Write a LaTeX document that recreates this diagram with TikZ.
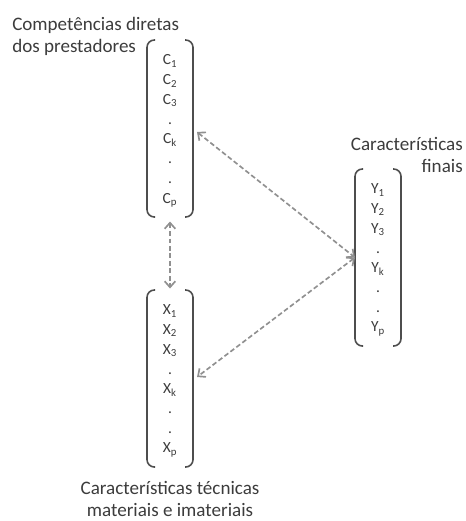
\documentclass[tikz,border=0pt]{standalone}
\usepackage{fontspec}
\setmainfont{Carlito}
\usetikzlibrary{arrows.meta}
\definecolor{ink}{HTML}{3C3C3C}
\definecolor{bracketgray}{HTML}{4E4E4E}
\definecolor{linkgray}{HTML}{909090}
\tikzset{
  vecbody/.style={minimum width=34.5pt, minimum height=132.75pt, inner sep=0pt, outer sep=0pt},
  entries/.style={align=center, inner sep=0pt, text=ink, font=\fontsize{11.6}{14.8}\selectfont},
  heading/.style={inner sep=0pt, text=ink, font=\fontsize{14.3}{16.5}\selectfont},
  bracket/.style={draw=bracketgray, line width=1.2pt, rounded corners=5.5pt},
  link/.style={draw=linkgray, line width=1.25pt, dash pattern=on 3.6pt off 2pt,
    {Straight Barb[length=4.5pt,width=8pt]}-{Straight Barb[length=4.5pt,width=8pt]}}
}
% left and right round brackets around a column vector
\newcommand\drawvecbrackets[1]{%
  \draw[bracket] ([shift={(8,0)}]#1.north west) -- (#1.north west) -- (#1.south west) -- ([shift={(8,0)}]#1.south west);
  \draw[bracket] ([shift={(-8,0)}]#1.north east) -- (#1.north east) -- (#1.south east) -- ([shift={(-8,0)}]#1.south east);
}
\begin{document}
\begin{tikzpicture}[x=0.75pt, y=-0.75pt]
  \useasboundingbox (0,0) rectangle (465,521);

  % column vectors
  \node[vecbody] (C) at (170,128.5) {};
  \node[vecbody] (X) at (170,378.5) {};
  \node[vecbody] (Y) at (378,257.5) {};
  \drawvecbrackets{C}
  \drawvecbrackets{X}
  \drawvecbrackets{Y}

  \node[entries] (Ce) at (170,131) {C\textsubscript{1}\\C\textsubscript{2}\\C\textsubscript{3}\\.\\C\textsubscript{k}\\.\\.\\C\textsubscript{p}};
  \node[entries] (Xe) at (170,381) {X\textsubscript{1}\\X\textsubscript{2}\\X\textsubscript{3}\\.\\X\textsubscript{k}\\.\\.\\X\textsubscript{p}};
  \node[entries] (Ye) at (378,260) {Y\textsubscript{1}\\Y\textsubscript{2}\\Y\textsubscript{3}\\.\\Y\textsubscript{k}\\.\\.\\Y\textsubscript{p}};

  % captions
  \node[heading, anchor=west, align=left] (Lc) at (12,36) {Competências diretas\\dos prestadores};
  \node[heading, anchor=east, align=right] (Ly) at (463,155) {Características\\finais};
  \node[heading, align=center] (Lx) at (170,499) {Características técnicas\\materiais e imateriais};

  % relations
  \draw[link] ([shift={(4,3.5)}]C.east) -- (Y.west);
  \draw[link] (Y.west) -- ([shift={(4,-1.5)}]X.east);
  \draw[link] ([shift={(0,4.5)}]C.south) -- ([shift={(0,-1.5)}]X.north);
\end{tikzpicture}
\end{document}
